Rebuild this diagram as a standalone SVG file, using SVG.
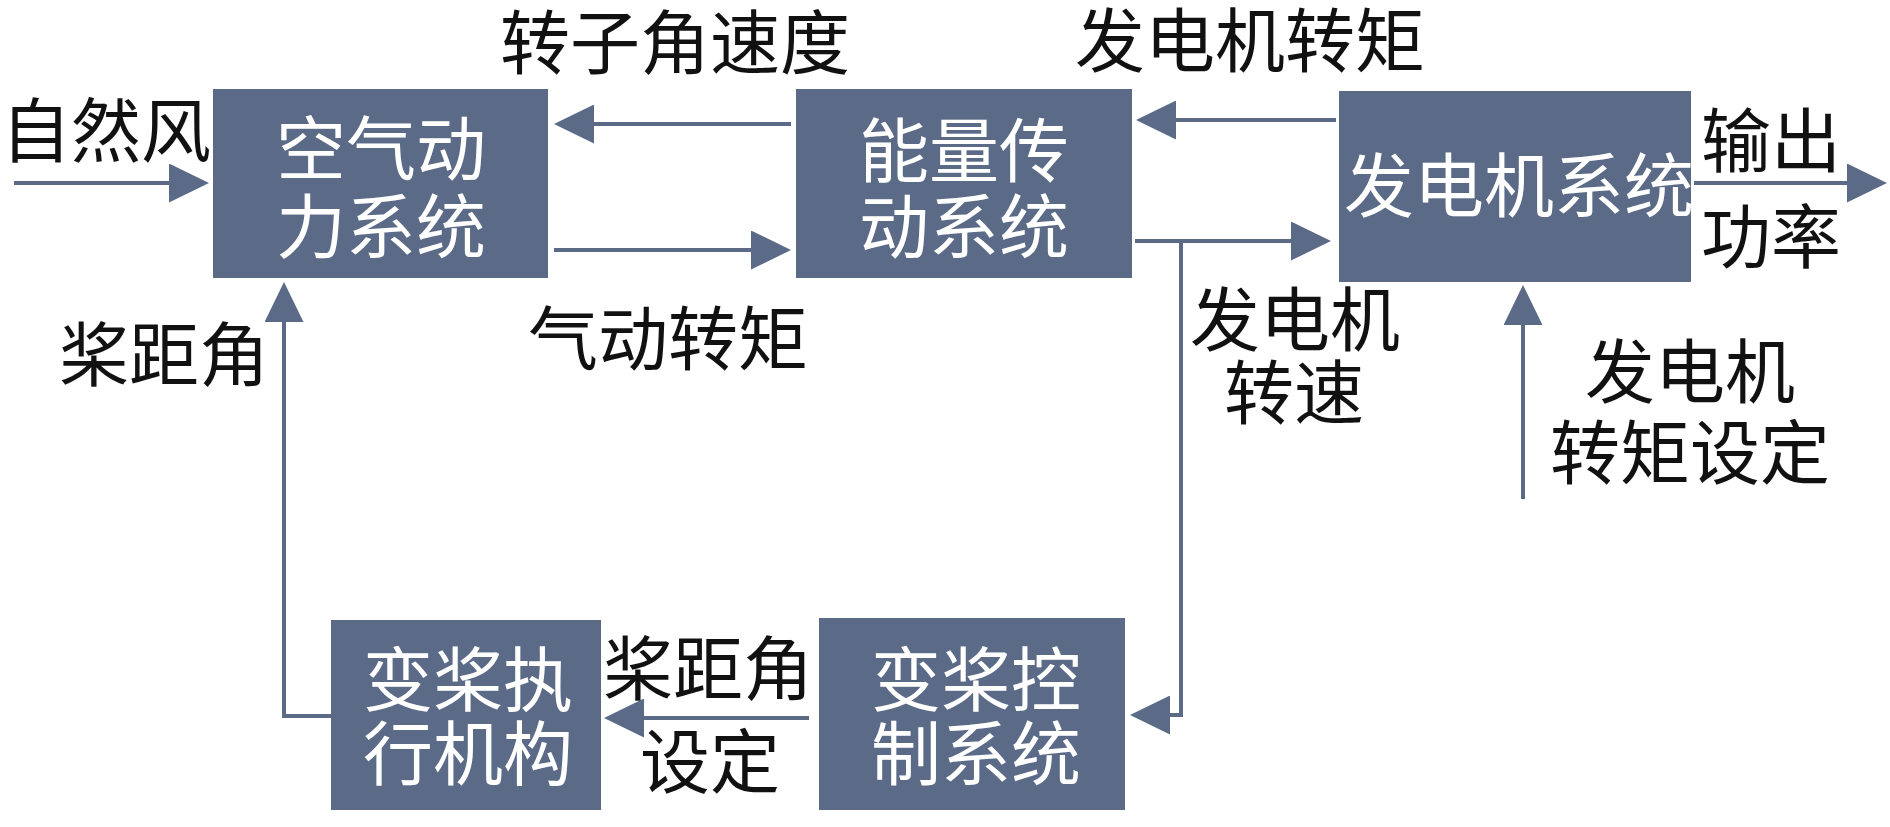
<svg xmlns="http://www.w3.org/2000/svg" width="1890" height="827" viewBox="0 0 1890 827">
<defs>
<style>
.box{fill:#5a6a87;}
.bt{fill:#ffffff;font-family:"Noto Sans CJK SC","Noto Sans",sans-serif;font-size:70px;text-anchor:middle;dominant-baseline:central;}
.lb{fill:#111111;font-family:"Noto Sans CJK SC","Noto Sans",sans-serif;font-size:70px;text-anchor:middle;dominant-baseline:central;}
.ln{fill:none;stroke:#5a6a87;stroke-width:4;marker-end:url(#ah);}
.ln2{fill:none;stroke:#5a6a87;stroke-width:4;}
</style>
<marker id="ah" markerUnits="userSpaceOnUse" markerWidth="40" markerHeight="39" refX="0" refY="19.5" orient="auto" viewBox="0 0 40 39">
<path d="M0,0 L40,19.5 L0,39 z" fill="#5a6a87"/>
</marker>
</defs>
<rect width="1890" height="827" fill="#ffffff"/>
<g id="connectors">
<line class="ln" x1="14" y1="183" x2="169" y2="183"/>
<line class="ln" x1="791" y1="124" x2="594" y2="124"/>
<line class="ln" x1="554" y1="250" x2="751" y2="250"/>
<line class="ln" x1="1336" y1="120" x2="1176" y2="120"/>
<line class="ln" x1="1135" y1="241" x2="1291" y2="241"/>
<polyline class="ln" points="1181,241 1181,715 1170,715"/>
<line class="ln" x1="1523" y1="499" x2="1523" y2="325"/>
<line class="ln" x1="1694" y1="183" x2="1847" y2="183"/>
<polyline class="ln" points="331,716 284,716 284,322"/>
<line class="ln" x1="809" y1="718" x2="644" y2="718"/>
</g>
<g id="aero">
<rect class="box" x="213" y="89" width="335" height="189"/>
<text class="bt" x="381" y="144">空气动</text>
<text class="bt" x="381" y="222">力系统</text>
</g>
<g id="drivetrain">
<rect class="box" x="796" y="89" width="336" height="189"/>
<text class="bt" x="964" y="146">能量传</text>
<text class="bt" x="964" y="222">动系统</text>
</g>
<g id="generator">
<rect class="box" x="1339" y="91" width="352" height="191"/>
<text class="bt" x="1519" y="181">发电机系统</text>
</g>
<g id="pitchactuator">
<rect class="box" x="331" y="620" width="270" height="190"/>
<text class="bt" x="468" y="675">变桨执</text>
<text class="bt" x="468" y="749">行机构</text>
</g>
<g id="pitchcontrol">
<rect class="box" x="819" y="618" width="306" height="192"/>
<text class="bt" x="976" y="675">变桨控</text>
<text class="bt" x="976" y="749">制系统</text>
</g>
<g id="labels">
<text class="lb" x="106" y="126">自然风</text>
<text class="lb" x="675" y="38">转子角速度</text>
<text class="lb" x="668" y="334">气动转矩</text>
<text class="lb" x="1250" y="36">发电机转矩</text>
<text class="lb" x="1295" y="315">发电机</text>
<text class="lb" x="1294" y="388">转速</text>
<text class="lb" x="1690" y="367">发电机</text>
<text class="lb" x="1690" y="448">转矩设定</text>
<text class="lb" x="1771" y="136">输出</text>
<text class="lb" x="1771" y="232">功率</text>
<text class="lb" x="164" y="350">桨距角</text>
<text class="lb" x="708" y="664">桨距角</text>
<text class="lb" x="710" y="757">设定</text>
</g>
</svg>
